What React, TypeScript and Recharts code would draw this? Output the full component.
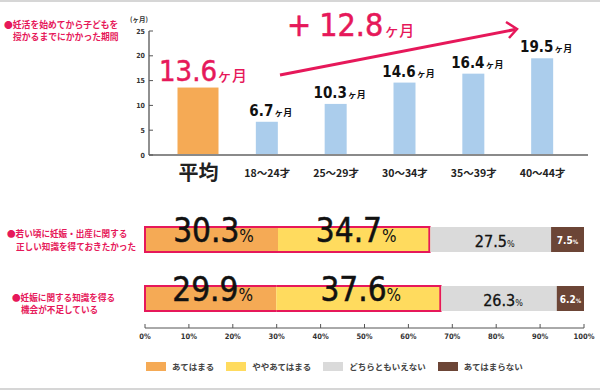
import { Bar, BarChart, Cell, LabelList, XAxis, YAxis } from "recharts";

// --- data ---------------------------------------------------------------
const periodCategories = ["平均", "18〜24才", "25〜29才", "30〜34才", "35〜39才", "40〜44才"];
const periodMonths = [13.6, 6.7, 10.3, 14.6, 16.4, 19.5];
const monthTicks = [0, 5, 10, 15, 20, 25];

const rowLabelLines = [
  ["若い頃に妊娠・出産に関する", "正しい知識を得ておきたかった"],
  ["妊娠に関する知識を得る", "機会が不足している"],
];
const answerNames = ["あてはまる", "ややあてはまる", "どちらともいえない", "あてはまらない"];
const appliesPct = [30.3, 29.9];
const somewhatPct = [34.7, 37.6];
const neitherPct = [27.5, 26.3];
const notApplyPct = [7.5, 6.2];
const pctTicks = [0, 10, 20, 30, 40, 50, 60, 70, 80, 90, 100];

// --- style --------------------------------------------------------------
const PINK = "#e6185a";
const ORANGE = "#f5aa55";
const BLUE = "#abcdec";
const YELLOW = "#ffdb5e";
const GRAY = "#dadada";
const BROWN = "#6c4536";
const answerColors = [ORANGE, YELLOW, GRAY, BROWN];
const NUM = "'Liberation Sans Narrow', 'DejaVu Sans Condensed', Roboto, sans-serif";
const JP = "'Noto Sans CJK JP', sans-serif";

const periodData = periodCategories.map((name, i) => ({ name, months: periodMonths[i] }));
const knowledgeData = rowLabelLines.map((lines, i) => ({
  name: lines[0],
  applies: appliesPct[i],
  somewhat: somewhatPct[i],
  neither: neitherPct[i],
  notApply: notApplyPct[i],
}));

function PeriodTick(p: any) {
  const avg = p.index === 0;
  return (
    <text
      x={p.x}
      y={p.y + (avg ? 25 : 22)}
      textAnchor="middle"
      fontFamily={JP}
      fontWeight={700}
      fontSize={avg ? 20 : 10.5}
      fill="#222"
    >
      {p.payload.value}
    </text>
  );
}

function MonthTick(p: any) {
  return (
    <g>
      <text x={p.x - 4} y={p.y + 2.5} textAnchor="end" fontFamily={NUM} fontWeight={700} fontSize={7} fill="#333">
        {p.payload.value}
      </text>
      <line x1={p.x} x2={p.x + 4} y1={p.y} y2={p.y} stroke="#555" strokeWidth={1} />
    </g>
  );
}

function PctTick(p: any) {
  return (
    <g>
      <line x1={p.x} x2={p.x} y1={p.y} y2={p.y - 4} stroke="#555" strokeWidth={1} />
      <text x={p.x} y={p.y + 11} textAnchor="middle" fontFamily={NUM} fontWeight={700} fontSize={7.5} fill="#333">
        {p.payload.value}%
      </text>
    </g>
  );
}

function RowTick(p: any) {
  const i = p.index;
  const lines = rowLabelLines[i];
  const x0 = i === 0 ? 7 : 12;
  const dys = i === 0 ? [-3, 10] : [2, 14.5];
  return (
    <g fontFamily={JP} fontWeight={700} fontSize={8.6} fill={PINK}>
      <text x={x0} y={p.y + dys[0]}>●{lines[0]}</text>
      <text x={x0 + 9} y={p.y + dys[1]}>{lines[1]}</text>
    </g>
  );
}

function PeriodBarShape(p: any) {
  const w = p.index === 0 ? 41 : p.width;
  const cx = p.x + p.width / 2;
  return <rect x={cx - w / 2} y={p.y} width={w} height={p.height} fill={p.fill} />;
}

function renderPeriodLabel(p: any) {
  const cx = p.x + p.width / 2 + 4;
  if (p.index === 0) {
    return (
      <text x={cx + 1} y={p.y - 7} textAnchor="middle" fill={PINK}>
        <tspan fontFamily={NUM} fontSize={29} stroke={PINK} strokeWidth={0.5}>{p.value}</tspan>
        <tspan fontFamily={JP} fontSize={15} fontWeight={500}>ヶ月</tspan>
      </text>
    );
  }
  return (
    <text x={cx} y={p.y - 6} textAnchor="middle" fill="#111">
      <tspan fontFamily={NUM} fontSize={15} fontWeight={700}>{p.value}</tspan>
      <tspan fontFamily={JP} fontSize={9} fontWeight={700} dx={1}>ヶ月</tspan>
    </text>
  );
}

// segments 0 and 1 together carry a pink outline
function outlinedShape(side: "left" | "right") {
  return (p: any) => {
    const { x, y, width, height, fill } = p;
    return (
      <g>
        <rect x={x} y={y} width={width} height={height} fill={fill} />
        <rect x={x} y={y - 1} width={width} height={2} fill={PINK} />
        <rect x={x} y={y + height - 1} width={width} height={2} fill={PINK} />
        {side === "left" ? (
          <rect x={x - 1} y={y - 1} width={2} height={height + 2} fill={PINK} />
        ) : (
          <rect x={x + width - 2} y={y - 1} width={2} height={height + 2} fill={PINK} />
        )}
      </g>
    );
  };
}

function bigLabel(p: any) {
  return (
    <text x={p.x + p.width / 2 + 2} y={p.y + p.height / 2 + 2} textAnchor="middle" fill="#111" fontFamily={NUM}>
      <tspan fontSize={33} stroke="#111" strokeWidth={0.5}>{p.value}</tspan>
      <tspan fontSize={17}>%</tspan>
    </text>
  );
}

function midLabel(p: any) {
  return (
    <text x={p.x + p.width / 2 + 4} y={p.y + p.height / 2 + 7} textAnchor="middle" fill="#111" fontFamily={NUM}>
      <tspan fontSize={16} stroke="#111" strokeWidth={0.3}>{p.value}</tspan>
      <tspan fontSize={9}>%</tspan>
    </text>
  );
}

function smallLabel(p: any) {
  return (
    <text x={p.x + p.width / 2} y={p.y + p.height / 2 + 4.5} textAnchor="middle" fill="#fff" fontFamily={NUM} fontWeight={700}>
      <tspan fontSize={10}>{p.value}</tspan>
      <tspan fontSize={6}>%</tspan>
    </text>
  );
}

export default function App() {
  return (
    <div
      style={{
        position: "absolute",
        top: 0,
        left: 0,
        width: 600,
        height: 390,
        boxSizing: "border-box",
        borderTop: "2px solid #d6d6d6",
        borderBottom: "2px solid #d6d6d6",
        background: "#fff",
        overflow: "hidden",
      }}
    >
      <div style={{ position: "absolute", top: -2, left: 0 }}>
        <BarChart width={600} height={190} data={periodData} margin={{ top: 31, right: 12, left: 0, bottom: 0 }}>
          <XAxis
            dataKey="name"
            height={35}
            padding={{ left: 15, right: 11 }}
            axisLine={{ stroke: "#8a8a8a", strokeWidth: 2 }}
            tickLine={false}
            tickSize={0}
            tickMargin={0}
            interval={0}
            tick={(p: any) => <PeriodTick {...p} />}
          />
          <YAxis
            domain={[0, 25]}
            ticks={monthTicks}
            width={149}
            axisLine={{ stroke: "#6b6b6b", strokeWidth: 1.5 }}
            tickLine={false}
            tickSize={0}
            tickMargin={0}
            interval={0}
            tick={(p: any) => <MonthTick {...p} />}
          />
          <Bar dataKey="months" barSize={22} isAnimationActive={false} shape={(p: any) => <PeriodBarShape {...p} />}>
            {periodData.map((d, i) => (
              <Cell key={d.name} fill={i === 0 ? ORANGE : BLUE} />
            ))}
            <LabelList dataKey="months" content={renderPeriodLabel} />
          </Bar>
        </BarChart>
      </div>

      <div style={{ position: "absolute", top: 188, left: 0 }}>
        <BarChart
          layout="vertical"
          width={600}
          height={160}
          data={knowledgeData}
          barSize={25}
          margin={{ top: 20, right: 16, left: 0, bottom: 0 }}
        >
          <XAxis
            type="number"
            domain={[0, 100]}
            ticks={pctTicks}
            height={22}
            axisLine={{ stroke: "#555" }}
            tickLine={false}
            tickSize={0}
            tickMargin={0}
            interval={0}
            tick={(p: any) => <PctTick {...p} />}
          />
          <YAxis
            type="category"
            dataKey="name"
            width={145}
            axisLine={false}
            tickLine={false}
            tick={(p: any) => <RowTick {...p} />}
          />
          <Bar dataKey="applies" stackId="a" fill={ORANGE} isAnimationActive={false} shape={outlinedShape("left")}>
            <LabelList dataKey="applies" content={bigLabel} />
          </Bar>
          <Bar dataKey="somewhat" stackId="a" fill={YELLOW} isAnimationActive={false} shape={outlinedShape("right")}>
            <LabelList dataKey="somewhat" content={bigLabel} />
          </Bar>
          <Bar dataKey="neither" stackId="a" fill={GRAY} isAnimationActive={false}>
            <LabelList dataKey="neither" content={midLabel} />
          </Bar>
          <Bar dataKey="notApply" stackId="a" fill={BROWN} isAnimationActive={false}>
            <LabelList dataKey="notApply" content={smallLabel} />
          </Bar>
        </BarChart>
      </div>

      <svg width={600} height={390} style={{ position: "absolute", top: -2, left: 0, pointerEvents: "none" }}>
        <g fontFamily={JP} fontWeight={700} fontSize={8.8} fill={PINK}>
          <text x={4} y={27.5}>●妊活を始めてから子どもを</text>
          <text x={13} y={40}>授かるまでにかかった期間</text>
        </g>
        <text x={139} y={22} textAnchor="middle" fontFamily={JP} fontWeight={700} fontSize={6.5} fill="#333">
          (ヶ月)
        </text>
        <text x={287} y={36} fill={PINK}>
          <tspan fontFamily={NUM} fontSize={32} stroke={PINK} strokeWidth={0.6}>+</tspan>
          <tspan fontFamily={NUM} fontSize={32} dx={8} stroke={PINK} strokeWidth={0.5}>12.8</tspan>
          <tspan fontFamily={JP} fontSize={15} fontWeight={500} dx={1}>ヶ月</tspan>
        </text>
        <line x1={280} y1={75} x2={515} y2={29.5} stroke={PINK} strokeWidth={3} />
        <polyline points="506,22 517,29 509,38" fill="none" stroke={PINK} strokeWidth={2.5} />
      </svg>

      <div
        style={{
          position: "absolute",
          top: 358,
          left: 146,
          display: "flex",
          gap: 12,
          fontFamily: JP,
          fontWeight: 700,
          fontSize: 8.5,
          color: "#444",
        }}
      >
        {answerNames.map((n, i) => (
          <div key={n} style={{ display: "flex", alignItems: "center", gap: 6 }}>
            <span style={{ width: 20, height: 9, background: answerColors[i], display: "inline-block" }} />
            <span style={{ lineHeight: "13px" }}>{n}</span>
          </div>
        ))}
      </div>
    </div>
  );
}
